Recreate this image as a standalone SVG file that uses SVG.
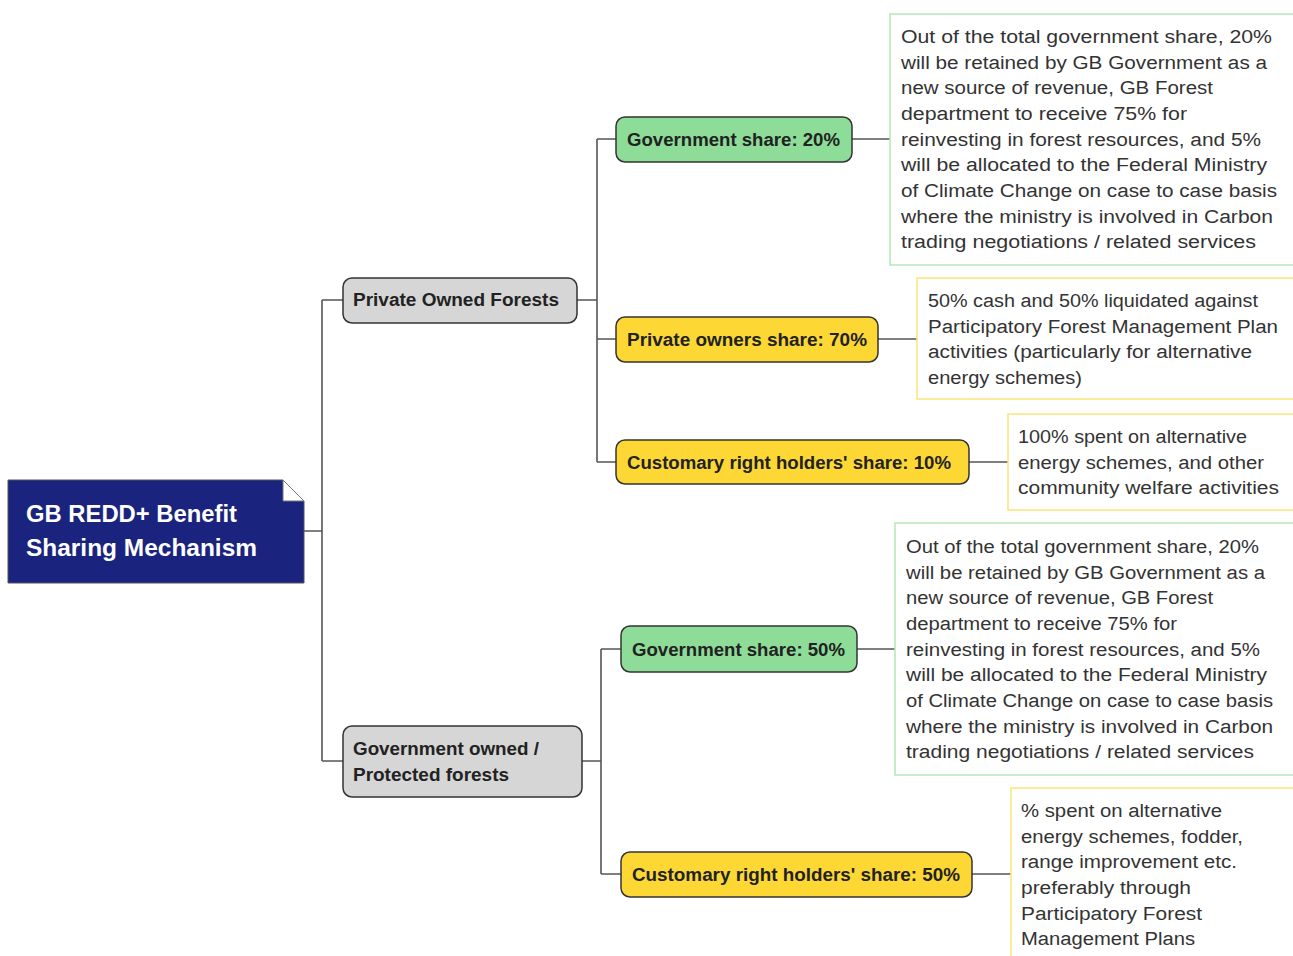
<svg xmlns="http://www.w3.org/2000/svg" width="1293" height="956" viewBox="0 0 1293 956">
<style>
.bg{fill:#ffffff}
.conn{stroke:#555555;stroke-width:1.6;fill:none}
.node{stroke:#333333;stroke-width:1.5}
.grey{fill:#d6d6d6}
.green{fill:#8ddd98}
.yellow{fill:#fdd835}
.lbl{font-family:"Liberation Sans",Arial,sans-serif;font-weight:bold;font-size:18px;fill:#222222}
.root{font-family:"Liberation Sans",Arial,sans-serif;font-weight:bold;font-size:24px;fill:#ffffff}
.note{fill:#ffffff;stroke-width:1.5}
.ng{stroke:#b4e8b8}
.ny{stroke:#fde57a}
.body{font-family:"Liberation Sans",Arial,sans-serif;font-size:18px;fill:#333333}
</style>
<rect class="bg" x="0" y="0" width="1293" height="956"/>
<g id="connectors">
<path class="conn" d="M304,531 H322 M322,300 V761 M322,300 H343 M322,761 H343"/>
<path class="conn" d="M577,300 H597 M597,139 V462 M597,139 H616 M597,339 H616 M597,462 H616"/>
<path class="conn" d="M582,761 H601 M601,649 V874 M601,649 H621 M601,874 H621"/>
<path class="conn" d="M852,139 H890 M878,339 H917 M969,462 H1008 M857,649 H895 M972,874 H1011"/>
</g>
<g id="root">
<polygon points="8,480 283,480 304,501 304,583 8,583" fill="#1a237e" stroke="#555" stroke-width="1"/>
<polygon points="283,480 283,501 304,501" fill="#ffffff" stroke="#777" stroke-width="1"/>
<text class="root" x="26" y="522" textLength="211" lengthAdjust="spacingAndGlyphs">GB REDD+ Benefit</text>
<text class="root" x="26" y="556" textLength="231" lengthAdjust="spacingAndGlyphs">Sharing Mechanism</text>
</g>
<g id="private-owned-forests">
<rect class="node grey" x="343" y="278" width="234" height="45" rx="9"/>
<text class="lbl" x="353" y="306" textLength="206" lengthAdjust="spacingAndGlyphs">Private Owned Forests</text>
</g>
<g id="gov-owned-forests">
<rect class="node grey" x="343" y="726" width="239" height="71" rx="9"/>
<text class="lbl" x="353" y="755" textLength="186" lengthAdjust="spacingAndGlyphs">Government owned /</text>
<text class="lbl" x="353" y="781" textLength="156" lengthAdjust="spacingAndGlyphs">Protected forests</text>
</g>
<g id="gov-share-20">
<rect class="node green" x="616" y="117" width="236" height="45" rx="9"/>
<text class="lbl" x="627" y="146" textLength="213" lengthAdjust="spacingAndGlyphs">Government share: 20%</text>
</g>
<g id="private-share-70">
<rect class="node yellow" x="616" y="317" width="262" height="45" rx="9"/>
<text class="lbl" x="627" y="346" textLength="240" lengthAdjust="spacingAndGlyphs">Private owners share: 70%</text>
</g>
<g id="customary-share-10">
<rect class="node yellow" x="616" y="440" width="353" height="44" rx="9"/>
<text class="lbl" x="627" y="469" textLength="324" lengthAdjust="spacingAndGlyphs">Customary right holders' share: 10%</text>
</g>
<g id="gov-share-50">
<rect class="node green" x="621" y="626" width="236" height="46" rx="9"/>
<text class="lbl" x="632" y="656" textLength="213" lengthAdjust="spacingAndGlyphs">Government share: 50%</text>
</g>
<g id="customary-share-50">
<rect class="node yellow" x="621" y="852" width="351" height="45" rx="9"/>
<text class="lbl" x="632" y="881" textLength="328" lengthAdjust="spacingAndGlyphs">Customary right holders' share: 50%</text>
</g>
<g id="note-gov-20">
<rect class="note ng" x="890" y="14" width="420" height="251"/>
<text class="body" x="901" y="43" textLength="371" lengthAdjust="spacingAndGlyphs">Out of the total government share, 20%</text>
<text class="body" x="901" y="69" textLength="366" lengthAdjust="spacingAndGlyphs">will be retained by GB Government as a</text>
<text class="body" x="901" y="94" textLength="312" lengthAdjust="spacingAndGlyphs">new source of revenue, GB Forest</text>
<text class="body" x="901" y="120" textLength="286" lengthAdjust="spacingAndGlyphs">department to receive 75% for</text>
<text class="body" x="901" y="146" textLength="360" lengthAdjust="spacingAndGlyphs">reinvesting in forest resources, and 5%</text>
<text class="body" x="901" y="171" textLength="366" lengthAdjust="spacingAndGlyphs">will be allocated to the Federal Ministry</text>
<text class="body" x="901" y="197" textLength="376" lengthAdjust="spacingAndGlyphs">of Climate Change on case to case basis</text>
<text class="body" x="901" y="223" textLength="372" lengthAdjust="spacingAndGlyphs">where the ministry is involved in Carbon</text>
<text class="body" x="901" y="248" textLength="355" lengthAdjust="spacingAndGlyphs">trading negotiations / related services</text>
</g>
<g id="note-private-70">
<rect class="note ny" x="917" y="278" width="400" height="121"/>
<text class="body" x="928" y="307" textLength="330" lengthAdjust="spacingAndGlyphs">50% cash and 50% liquidated against</text>
<text class="body" x="928" y="333" textLength="350" lengthAdjust="spacingAndGlyphs">Participatory Forest Management Plan</text>
<text class="body" x="928" y="358" textLength="324" lengthAdjust="spacingAndGlyphs">activities (particularly for alternative</text>
<text class="body" x="928" y="384" textLength="154" lengthAdjust="spacingAndGlyphs">energy schemes)</text>
</g>
<g id="note-customary-10">
<rect class="note ny" x="1008" y="414" width="300" height="96"/>
<text class="body" x="1018" y="443" textLength="229" lengthAdjust="spacingAndGlyphs">100% spent on alternative</text>
<text class="body" x="1018" y="469" textLength="246" lengthAdjust="spacingAndGlyphs">energy schemes, and other</text>
<text class="body" x="1018" y="494" textLength="261" lengthAdjust="spacingAndGlyphs">community welfare activities</text>
</g>
<g id="note-gov-50">
<rect class="note ng" x="895" y="523" width="420" height="252"/>
<text class="body" x="906" y="553" textLength="353" lengthAdjust="spacingAndGlyphs">Out of the total government share, 20%</text>
<text class="body" x="906" y="579" textLength="359" lengthAdjust="spacingAndGlyphs">will be retained by GB Government as a</text>
<text class="body" x="906" y="604" textLength="307" lengthAdjust="spacingAndGlyphs">new source of revenue, GB Forest</text>
<text class="body" x="906" y="630" textLength="271" lengthAdjust="spacingAndGlyphs">department to receive 75% for</text>
<text class="body" x="906" y="656" textLength="354" lengthAdjust="spacingAndGlyphs">reinvesting in forest resources, and 5%</text>
<text class="body" x="906" y="681" textLength="361" lengthAdjust="spacingAndGlyphs">will be allocated to the Federal Ministry</text>
<text class="body" x="906" y="707" textLength="367" lengthAdjust="spacingAndGlyphs">of Climate Change on case to case basis</text>
<text class="body" x="906" y="733" textLength="367" lengthAdjust="spacingAndGlyphs">where the ministry is involved in Carbon</text>
<text class="body" x="906" y="758" textLength="348" lengthAdjust="spacingAndGlyphs">trading negotiations / related services</text>
</g>
<g id="note-customary-50">
<rect class="note ny" x="1011" y="788" width="300" height="200"/>
<text class="body" x="1021" y="817" textLength="201" lengthAdjust="spacingAndGlyphs">% spent on alternative</text>
<text class="body" x="1021" y="843" textLength="222" lengthAdjust="spacingAndGlyphs">energy schemes, fodder,</text>
<text class="body" x="1021" y="868" textLength="216" lengthAdjust="spacingAndGlyphs">range improvement etc.</text>
<text class="body" x="1021" y="894" textLength="170" lengthAdjust="spacingAndGlyphs">preferably through</text>
<text class="body" x="1021" y="920" textLength="181" lengthAdjust="spacingAndGlyphs">Participatory Forest</text>
<text class="body" x="1021" y="945" textLength="174" lengthAdjust="spacingAndGlyphs">Management Plans</text>
</g>
</svg>
